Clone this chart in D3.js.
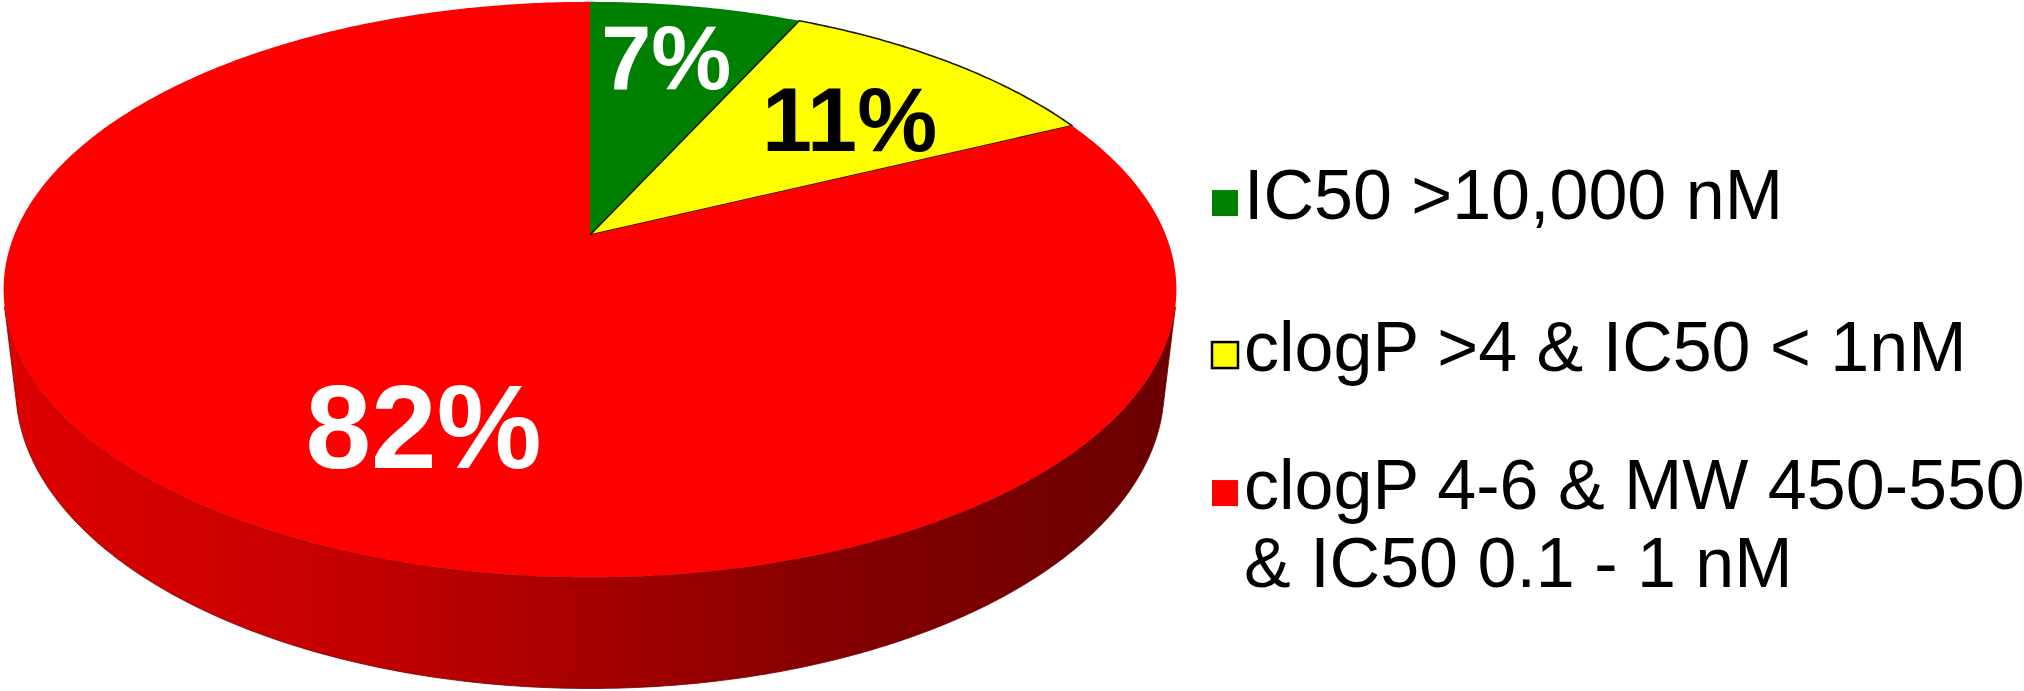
<!DOCTYPE html>
<html>
<head>
<meta charset="utf-8">
<script src="https://cdn.jsdelivr.net/npm/d3@7"></script>
<style>
  html, body { margin: 0; padding: 0; background: #ffffff; }
  svg { display: block; }
</style>
</head>
<body>
<svg id="chart" width="2024" height="691"></svg>
<script>
// Share of compounds in each property class (percent)
const categories = [
  "IC50 >10,000 nM",
  "clogP >4 & IC50 < 1nM",
  "clogP 4-6 & MW 450-550 & IC50 0.1 - 1 nM"
];
const legendLines = [
  ["IC50 >10,000 nM"],
  ["clogP >4 & IC50 < 1nM"],
  ["clogP 4-6 & MW 450-550", "& IC50 0.1 - 1 nM"]
];
const shares = [7, 11, 82];
const valueLabels = ["7%", "11%", "82%"];
const sliceColors = ["#008000", "#ffff00", "#ff0000"];
const labelColors = ["#ffffff", "#000000", "#ffffff"];

// Camera used to project the disc (unit radius) onto the page
const cam = { cx: 590, cy: 235, f: 2660, D: 4.62, tilt: 28.8 * Math.PI / 180, thickness: 0.197 };
const sinT = Math.sin(cam.tilt), cosT = Math.cos(cam.tilt);

function project(x, y, z) {
  const d = cam.D - (y * sinT + z * cosT);
  const up = y * cosT - z * sinT;
  return [cam.cx + cam.f * x / d, cam.cy - cam.f * up / d];
}
// angle 0 = back of the disc, clockwise as seen from above
function rimPoint(theta, y, r = 1) {
  return project(r * Math.sin(theta), y, -r * Math.cos(theta));
}
function sampleArc(a0, a1, y) {
  const n = Math.max(2, Math.ceil(Math.abs(a1 - a0) / (Math.PI / 360)));
  return d3.range(n + 1).map(i => rimPoint(a0 + (a1 - a0) * i / n, y));
}

const svg = d3.select("#chart");
const defs = svg.append("defs");
const line = d3.line();

const arcs = d3.pie().sort(null).value(d => d)(shares);

// Side wall: only the part facing the camera is drawn
const zMin = 1 / (cam.D * cosT);
const visLo = Math.acos(-zMin), visHi = 2 * Math.PI - visLo;
const leftX = project(-1, 0, 0)[0], rightX = project(1, 0, 0)[0];

const shadeStops = [[0, 0.4], [0.3, 0.75], [0.5, 1.2], [0.7, 1.8], [1, 2.45]];

const sideG = svg.append("g").attr("class", "sides");
arcs.forEach((a, i) => {
  const lo = Math.max(a.startAngle, visLo), hi = Math.min(a.endAngle, visHi);
  if (hi <= lo) return;
  const gid = "side-shade-" + i;
  const grad = defs.append("linearGradient")
    .attr("id", gid).attr("gradientUnits", "userSpaceOnUse")
    .attr("x1", leftX).attr("x2", rightX).attr("y1", 0).attr("y2", 0);
  shadeStops.forEach(([o, k]) => {
    grad.append("stop").attr("offset", o).attr("stop-color", d3.color(sliceColors[i]).darker(k));
  });
  const pts = sampleArc(lo, hi, 0).concat(sampleArc(hi, lo, -cam.thickness));
  sideG.append("path")
    .attr("d", line(pts) + "Z")
    .attr("fill", `url(#${gid})`)
    .attr("stroke", d3.color(sliceColors[i]).darker(2.4))
    .attr("stroke-width", 0.8);
});

// Top face slices
const topG = svg.append("g").attr("class", "slices");
arcs.forEach((a, i) => {
  const pts = [project(0, 0, 0)].concat(sampleArc(a.startAngle, a.endAngle, 0));
  topG.append("path")
    .attr("d", line(pts) + "Z")
    .attr("fill", sliceColors[i])
    .attr("stroke", i === 1 ? "#1a1a00" : "none")
    .attr("stroke-width", 1.6)
    .attr("stroke-linejoin", "round");
});

// Value labels placed on the top face
const labelPlacement = [
  { r: 0.75, turn: -1, size: 90 },
  { r: 0.67, turn: 2, size: 90 },
  { r: 0.66, turn: -9.6, size: 118 }
];
const labelG = svg.append("g").attr("class", "labels");
arcs.forEach((a, i) => {
  const p = labelPlacement[i];
  const mid = (a.startAngle + a.endAngle) / 2 + p.turn * Math.PI / 180;
  const [x, y] = rimPoint(mid, 0, p.r);
  labelG.append("text")
    .attr("x", x).attr("y", y).attr("dy", "0.36em")
    .attr("text-anchor", "middle")
    .attr("font-family", "'Liberation Sans', Arial, sans-serif")
    .attr("font-weight", "bold")
    .attr("font-size", p.size)
    .attr("fill", labelColors[i])
    .text(valueLabels[i]);
});

// Legend
const legendFont = 70, lineGap = 78;
const legendX = 1212, swatch = 26, textX = 1244;
const legendRowY = [194, 346, 484];
const legendG = svg.append("g").attr("class", "legend");
legendLines.forEach((lines, i) => {
  const base = legendRowY[i] + 0.358 * legendFont;
  legendG.append("rect")
    .attr("x", legendX).attr("y", base - swatch - 3)
    .attr("width", swatch).attr("height", swatch)
    .attr("fill", sliceColors[i])
    .attr("stroke", i === 1 ? "#000" : "none")
    .attr("stroke-width", 2.5);
  const t = legendG.append("text")
    .attr("x", textX).attr("y", base)
    .attr("font-family", "'Liberation Sans', Arial, sans-serif")
    .attr("font-size", legendFont)
    .attr("fill", "#000");
  lines.forEach((s, j) => {
    t.append("tspan").attr("x", textX).attr("y", base + j * lineGap).text(s);
  });
});
</script>
</body>
</html>
